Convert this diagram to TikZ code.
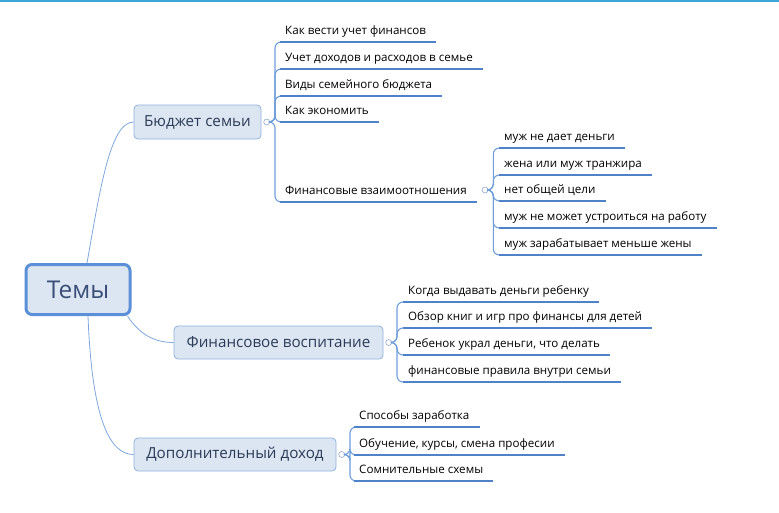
\documentclass[tikz,border=0pt]{standalone}
\usepackage{fontspec}
\setmainfont{Open Sans}
\usetikzlibrary{positioning}
\definecolor{barblue}{HTML}{3DA5D9}
\definecolor{boxfill}{HTML}{DCE6F2}
\definecolor{rootline}{HTML}{5B8FD7}
\definecolor{boxline}{HTML}{8FB1DE}
\definecolor{roottext}{HTML}{3A4E78}
\definecolor{topictext}{HTML}{2C3B57}
\definecolor{knobline}{HTML}{93A9C8}
\definecolor{limbline}{HTML}{7FA7DD}
\definecolor{twigline}{HTML}{6E9DDB}
\definecolor{ulblue}{HTML}{4F82C8}
\tikzset{
  root/.style={draw=rootline, line width=3pt, fill=boxfill, rounded corners=6pt,
    minimum width=104pt, minimum height=50pt, text=roottext,
    font=\fontsize{24.5}{28}\selectfont},
  topic/.style={draw=boxline, line width=.8pt, fill=boxfill, rounded corners=4pt,
    inner sep=0pt, text=topictext, font=\fontsize{15.2}{17}\selectfont},
  leaf/.style={anchor=south west, inner xsep=5pt, inner ysep=4pt, text height=9pt,
    text depth=3pt, font=\fontsize{11.6}{13}\selectfont},
  knob/.style={circle, draw=knobline, fill=white, line width=.6pt, inner sep=0pt,
    minimum size=6pt},
  limb/.style={draw=limbline, line width=.8pt},
  twig/.style={draw=twigline, line width=1.1pt, rounded corners=6pt},
  uline/.style={draw=ulblue, line width=2pt}
}
\begin{document}
\begin{tikzpicture}[x=1pt, y=-1pt]
\useasboundingbox (0,0) rectangle (779,512);
\fill[barblue] (0,0) rectangle (779,2);

% main topics
\node[root] (root) at (78,289.5) {Темы};
\node[topic, minimum width=127pt, minimum height=34pt] (b1) at (197.5,122) {Бюджет семьи};
\node[topic, minimum width=209pt, minimum height=33pt] (b2) at (278.5,342.5) {Финансовое воспитание};
\node[topic, minimum width=202pt, minimum height=33pt] (b3) at (235,454.5) {Дополнительный доход};
\draw[limb] ([xshift=9pt]root.north) .. controls (100,190) and (110,122) .. (b1.west);
\draw[limb] ([xshift=-4pt]root.south east) .. controls (140,335) and (155,342.5) .. (b2.west);
\draw[limb] ([xshift=10pt]root.south) .. controls (92,420) and (110,454.5) .. (b3.west);
\node[knob, right=2pt of b1] (b1k) {};
\node[knob, right=2pt of b2] (b2k) {};
\node[knob, right=2pt of b3] (b3k) {};

% Бюджет семьи
\node[leaf] (l11) at (280,42) {Как вести учет финансов};
\node[leaf] (l12) at (280,69) {Учет доходов и расходов в семье};
\node[leaf] (l13) at (280,96) {Виды семейного бюджета};
\node[leaf] (l14) at (280,122) {Как экономить};
\node[leaf] (l15) at (280,202) {Финансовые взаимоотношения};
\foreach \n in {l11,l12,l13,l14,l15}{
  \draw[twig] (b1k.east) -- ++(5,0) |- (\n.south west);
  \draw[uline] (\n.south west) -- ([xshift=5pt]\n.south east);
}

% Финансовые взаимоотношения
\node[knob] (l15k) at (485,190) {};
\node[leaf] (l21) at (499,148) {муж не дает деньги};
\node[leaf] (l22) at (499,175) {жена или муж транжира};
\node[leaf] (l23) at (499,201) {нет общей цели};
\node[leaf] (l24) at (499,228) {муж не может устроиться на работу};
\node[leaf] (l25) at (499,255) {муж зарабатывает меньше жены};
\foreach \n in {l21,l22,l23,l24,l25}{
  \draw[twig] (l15k.east) -- ++(5,0) |- (\n.south west);
  \draw[uline] (\n.south west) -- ([xshift=5pt]\n.south east);
}

% Финансовое воспитание
\node[leaf] (l31) at (403,302) {Когда выдавать деньги ребенку};
\node[leaf] (l32) at (403,328) {Обзор книг и игр про финансы для детей};
\node[leaf] (l33) at (403,355) {Ребенок украл деньги, что делать};
\node[leaf] (l34) at (403,382) {финансовые правила внутри семьи};
\foreach \n in {l31,l32,l33,l34}{
  \draw[twig] (b2k.east) -- ++(5,0) |- (\n.south west);
  \draw[uline] (\n.south west) -- ([xshift=5pt]\n.south east);
}

% Дополнительный доход
\node[leaf] (l41) at (354,427) {Способы заработка};
\node[leaf] (l42) at (354,455) {Обучение, курсы, смена професии};
\node[leaf] (l43) at (354,481) {Сомнительные схемы};
\foreach \n in {l41,l42,l43}{
  \draw[twig] (b3k.east) -- ++(5,0) |- (\n.south west);
  \draw[uline] (\n.south west) -- ([xshift=5pt]\n.south east);
}
\end{tikzpicture}
\end{document}
